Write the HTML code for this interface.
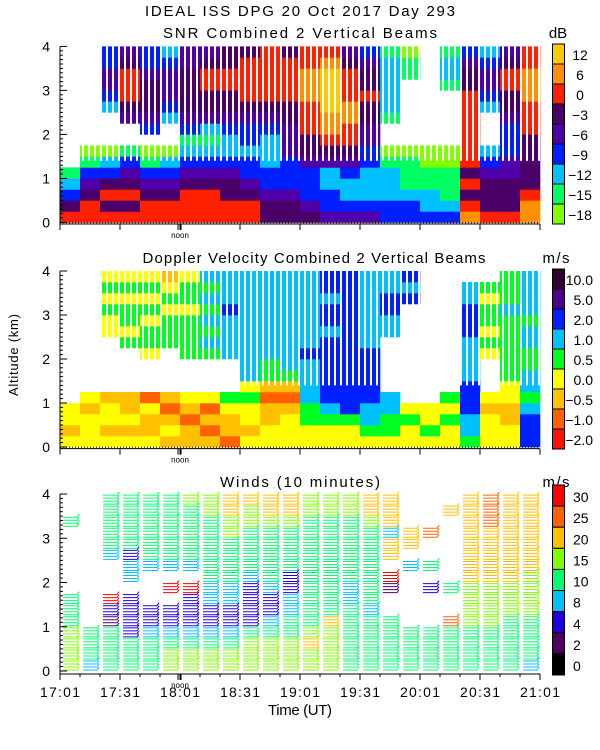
<!DOCTYPE html>
<html><head><meta charset="utf-8"><style>
html,body{margin:0;padding:0;background:#fff}
svg{display:block}
text{font-family:"Liberation Sans",sans-serif;fill:#000}
</style></head><body>
<svg id="chart" width="600" height="750" viewBox="0 0 600 750">
<g font-size="15">
<text x="300" y="16" text-anchor="middle" textLength="310">IDEAL ISS DPG  20 Oct 2017 Day 293</text>
<text x="300" y="38" text-anchor="middle" textLength="274">SNR Combined 2 Vertical Beams</text>
<text x="314" y="263" text-anchor="middle" textLength="343">Doppler Velocity Combined 2 Vertical Beams</text>
<text x="300" y="487" text-anchor="middle" textLength="160">Winds (10 minutes)</text>
<text x="300" y="715" text-anchor="middle" textLength="64">Time (UT)</text>
<text transform="translate(18,355) rotate(-90)" text-anchor="middle" font-size="13" textLength="82">Altitude (km)</text>
<text x="558" y="38" text-anchor="middle">dB</text>
<text x="556" y="263" text-anchor="middle" textLength="27">m/s</text>
<text x="556" y="487" text-anchor="middle" textLength="27">m/s</text>
</g>
<g id="panels"></g>
</svg>
<script>
// ---- data ----
const timeTicks = ["17:01","17:31","18:01","18:31","19:01","19:31","20:01","20:31","21:01"];
const altTicks = [0,1,2,3,4];
const colMinutes = [0,10,20,30,40,50,60,70,80,90,100,110,120,130,140,150,160,170,180,190,200,210,220,230];
const binAlts = [0,0.25,0.5,0.75,1,1.25,1.5,1.75,2,2.25,2.5,2.75,3,3.25,3.5,3.75];
// SNR level index per 10-min column, bins bottom->top ('.' = no data)
const snrColumns = ["65321...........","6654310.........","6565320...234433","6565431..4566654",
"6654310.34555433","6654320..2344432","6665432134555544","6665432124556654",
"6655432234556655","6654332334566665","5543322234566666","5543334445566665",
"5433345566677766","4332245677888876","4322345667766654","4322233445565543",
"3322210..1222221","3321110......110","3221100.........","3211100.....1221",
"7656566666665543","6555432...234432","6555443334556654","7765555566677766"];
const snrLabels = ["12","6","0","\u22123","\u22126","\u22129","\u221212","\u221215","\u221218"];
const snrColors = ["#80ff00","#00ff60","#00c0ff","#0020ff","#5000a8","#4a0068","#ff2000","#ff9000","#ffc800"];
const dopColumns = ["3233............","33323...........","32332.....334343","32322....4344343",
"32231...34434343","23212....4443432","22123...44443443","21213...45454545",
"12234...55556555","3233435555555555","3322124455555555","3332124555555555",
"3344555565555555","3345666666566566","3346666666666666","3455666665555555",
"34455.....556655","3343.........656","3433............","33434...........",
"455666555566655.","33323...3434434.","3322334444445444","6665455445545555"];
const dopLabels = ["10.0","5.0","2.0","1.0","0.5","0.0","\u22120.5","\u22121.0","\u22122.0"];
const dopColors = ["#ff1000","#ff6000","#ffc000","#ffff00","#00ff20","#00c0ff","#0020ff","#500090","#300030"];
const windColumns = ["5555444......4..","3444............","4444128...344444","4442222.33244444",
"444322...3444444","554322.8.3444444","55432228.3444445","5543223344444455",
"5543223344445566","5554222234444556","5554322344444566","5554433224444566",
"5565444444444455","5555644444444455","4444443344444455","4444434444444566",
"44444..18.663666","4444.....3.66...","4444...2.4..7...","44447..4......6.",
"4444555566666666","4444555566666777","4444455566666666","3444455556666666"];
const windLabels = ["30","25","20","15","10","8","4","2","0"];
const windColors = ["#000000","#500060","#2000e0","#00c0ff","#00ff70","#80ff00","#ffc000","#ff6000","#ff0000"];

// ---- layout ----
const NS="http://www.w3.org/2000/svg";
const X0=60, X1=540;
const xs = m => X0 + (m/240)*(X1-X0);
const panels=[{y0:222.4,k:44,name:"snr"},{y0:447,k:44,name:"doppler"},{y0:671,k:44.25,name:"winds"}];
const root=document.getElementById('panels');
function mk(tag,attrs,parent){const e=document.createElementNS(NS,tag);for(const a in attrs)e.setAttribute(a,attrs[a]);(parent||root).appendChild(e);return e;}

function heat(p,cols,colors){
  const g=mk('g',{});
  
  
  cols.forEach((s,i)=>{for(let j=0;j<s.length;j++){const c=s[j];if(c==='.')continue;
    const a0=binAlts[j], a1=a0+0.25;
    const r=mk('rect',{x:xs(colMinutes[i]),y:p.y0-a1*p.k,width:xs(10)-X0+0.3,height:0.25*p.k+0.3,fill:colors[+c]},g);
    
    
  }});
  for(let x=X0+4;x<X1;x+=6){mk('rect',{x:x,y:p.y0-4*p.k,width:2,height:2.6*p.k,fill:'#fff'},g);}
}
function barbs(p){
  const g=mk('g',{'stroke-width':1,fill:'none'});
  
  
  windColumns.forEach((s,i)=>{for(let j=0;j<s.length;j++){const c=s[j];if(c==='.')continue;
    const col=windColors[+c]; const xe=xs(colMinutes[i])+17; const xb=xe-14;
    const yb=p.y0-binAlts[j]*p.k;
    for(let y=yb-1;y>yb-0.25*p.k;y-=3){
      const pl=mk('polyline',{points:`${xb},${y} ${xe},${y} ${xe+2},${y-3}`,stroke:col},g);
      
      
    }
  }});
}
function axes(p,idx){
  const g=mk('g',{stroke:'#000',fill:'none','stroke-width':1});
  
  
  const yb=p.y0+(idx===2?3:1.6);
  mk('line',{x1:X0,y1:yb,x2:X1,y2:yb},g);
  mk('line',{x1:X0,y1:yb,x2:X0,y2:p.y0-4*p.k},g);
  for(let t=0;t<=40;t++){const y=p.y0-t*0.1*p.k;const L=(t%10===0)?7:3;mk('line',{x1:X0,y1:y,x2:X0+L,y2:y},g);}
  timeTicks.forEach((lab,i)=>{const x=xs(i*30);mk('line',{x1:x,y1:yb,x2:x,y2:yb+6},g);});
  if(idx===2){for(let m=10;m<240;m+=10){if(m%30)mk('line',{x1:xs(m),y1:yb,x2:xs(m),y2:yb+3},g);}}
  mk('line',{x1:178,y1:yb,x2:178,y2:yb+6},g);mk('line',{x1:181,y1:yb,x2:181,y2:yb+6},g);
  if(idx<2){mk('line',{x1:X0,y1:p.y0+0.3,x2:X1,y2:p.y0+0.3,'stroke-dasharray':'1,2'},g);}
  const n=mk('text',{x:180,y:yb+14,'text-anchor':'middle','font-size':'8',stroke:'none',fill:'#000'},root);n.textContent='noon';
  
  
  altTicks.forEach(a=>{const t=mk('text',{x:50,y:p.y0-a*p.k+5,'text-anchor':'end','font-size':'14'});t.textContent=a;
    
    });
}
function colorbar(top,bottom,colors,labels,labX,anchor,name){
  const g=mk('g',{});
  
  
  const n=labels.length, h=(bottom-top)/n;
  for(let i=0;i<n;i++){
    const ci=n-1-i;
    mk('rect',{x:552.5,y:top+i*h,width:12,height:h,fill:colors[ci],stroke:'#000','stroke-width':1},g);
    const t=mk('text',{x:labX,y:top+(i+1)*h-4,'text-anchor':anchor,'font-size':'14'},g);t.textContent=labels[i];
    
    
  }
}
heat(panels[0],snrColumns,snrColors);
heat(panels[1],dopColumns,dopColors);
barbs(panels[2]);
panels.forEach((p,i)=>axes(p,i));
timeTicks.forEach((lab,i)=>{const t=mk('text',{x:xs(i*30),y:697,'text-anchor':'middle','font-size':'14',textLength:'40'});t.textContent=lab;
  
  });
colorbar(44,224,snrColors,snrLabels,580,'middle','snr-colorbar');
colorbar(269,449,dopColors,dopLabels,593,'end','doppler-colorbar');
colorbar(485,675,windColors,windLabels,573,'start','wind-colorbar');
</script>
</body></html>
